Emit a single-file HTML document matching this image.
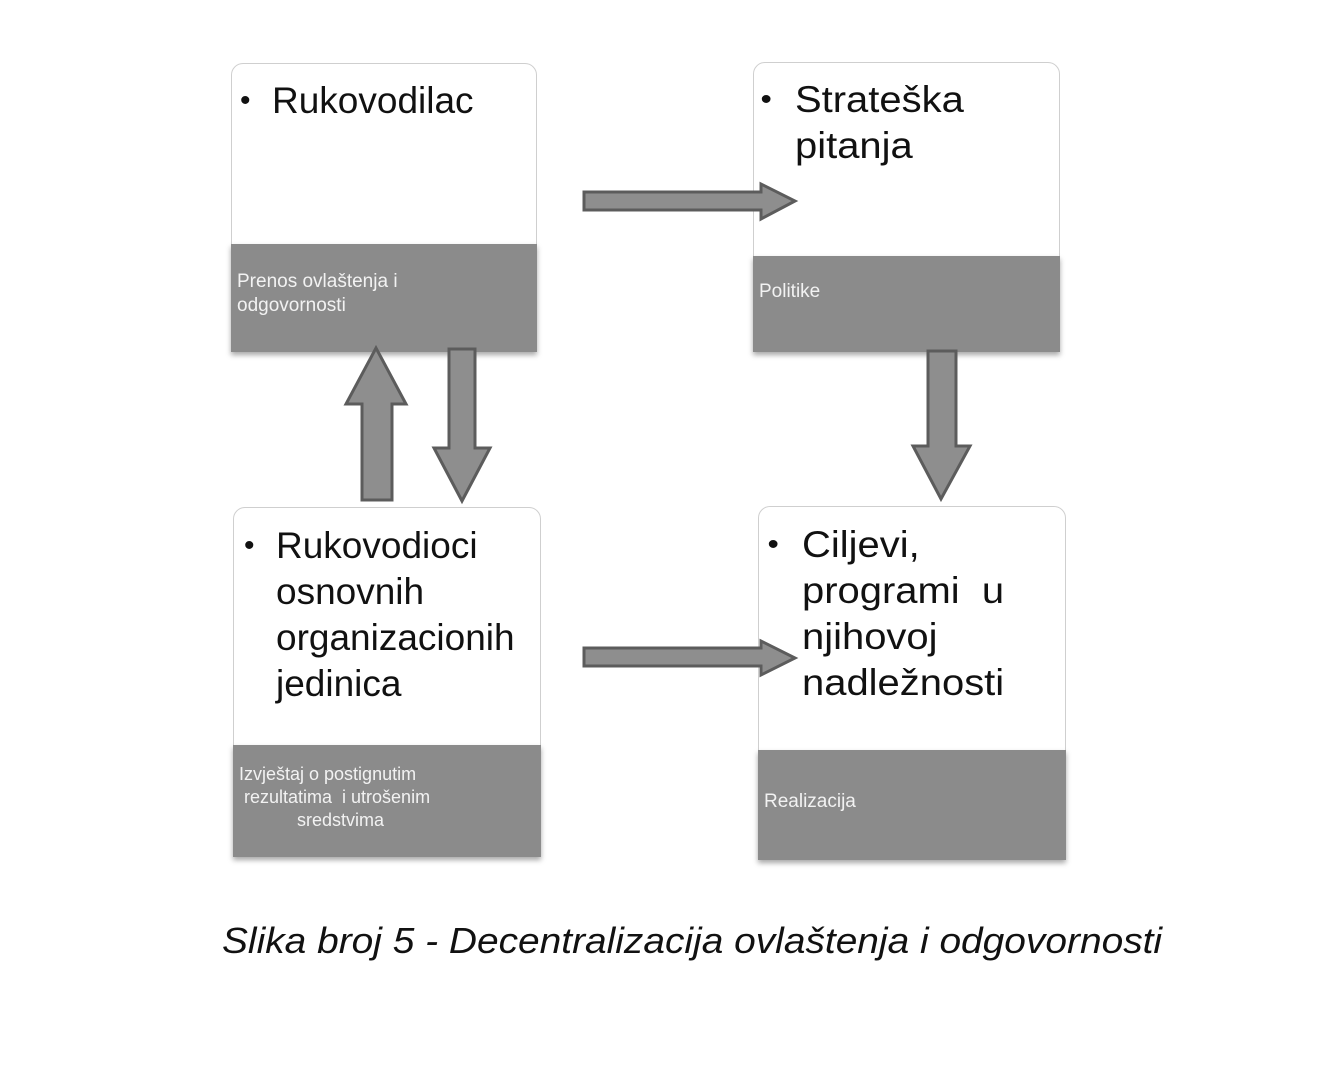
<!DOCTYPE html>
<html><head><meta charset="utf-8"><style>
body{margin:0;width:1325px;height:1073px;background:#fff;position:relative;overflow:hidden;font-family:"Liberation Sans",Arial,sans-serif}
.box{position:absolute;background:#fff;border:1.5px solid #cfcfcf;border-radius:12px;box-sizing:border-box;overflow:visible}
.band{position:absolute;left:-1px;right:-1px;bottom:-1px;background:#8b8b8b;box-shadow:0 3px 5px rgba(0,0,0,.35);color:#f2f2f2;font-size:19px;line-height:24px;padding:0 6px;box-sizing:border-box}
.t{position:absolute;font-size:37px;line-height:46px;color:#111;white-space:nowrap}
.t .b{position:absolute;left:-32px;font-size:30px}
</style></head><body>
<div class="box" style="left:231px;top:63px;width:306px;height:289px">
  <div class="t" style="left:40px;top:14px"><span class="b">•</span>Rukovodilac</div>
  <div class="band" style="height:108px;padding-top:26px">Prenos ovlaštenja i<br>odgovornosti</div>
</div>
<div class="box" style="left:753px;top:62px;width:307px;height:290px">
  <div class="t" style="left:41px;top:14px;transform:scaleX(1.08);transform-origin:left"><span class="b">•</span>Strateška<br>pitanja</div>
  <div class="band" style="height:96px;padding-top:24px">Politike</div>
</div>
<div class="box" style="left:233px;top:507px;width:308px;height:350px">
  <div class="t" style="left:42px;top:15px"><span class="b">•</span>Rukovodioci<br>osnovnih<br>organizacionih<br>jedinica</div>
  <div class="band" style="height:112px;padding-top:18px;font-size:18px;line-height:23px">Izvještaj o postignutim<br>&nbsp;rezultatima &nbsp;i utrošenim<br><span style="padding-left:58px">sredstvima</span></div>
</div>
<div class="box" style="left:758px;top:506px;width:308px;height:354px">
  <div class="t" style="left:43px;top:15px;transform:scaleX(1.08);transform-origin:left"><span class="b">•</span>Ciljevi,<br>programi &nbsp;u<br>njihovoj<br>nadležnosti</div>
  <div class="band" style="height:110px;padding-top:40px">Realizacija</div>
</div>
<svg width="1325" height="1073" style="position:absolute;left:0;top:0" >
<g fill="#8e8e8e" stroke="#5c5c5c" stroke-width="3" stroke-linejoin="miter">
<polygon points="584,192 761,192 761,184 795,201 761,219 761,210 584,210"/>
<polygon points="584,648 761,648 761,641 795,658 761,675 761,666 584,666"/>
<polygon points="362,500 392,500 392,404 406,404 376,348 346,404 362,404"/>
<polygon points="449,349 475,349 475,448 490,448 462,501 434,448 449,448"/>
<polygon points="928,351 956,351 956,446 970,446 941,499 913,446 928,446"/>
</g>
</svg>
<div style="position:absolute;left:222px;top:920px;font-size:36px;font-style:italic;color:#111;white-space:nowrap;transform:scaleX(1.08);transform-origin:left">Slika broj 5 - Decentralizacija ovlaštenja i odgovornosti</div>
</body></html>
